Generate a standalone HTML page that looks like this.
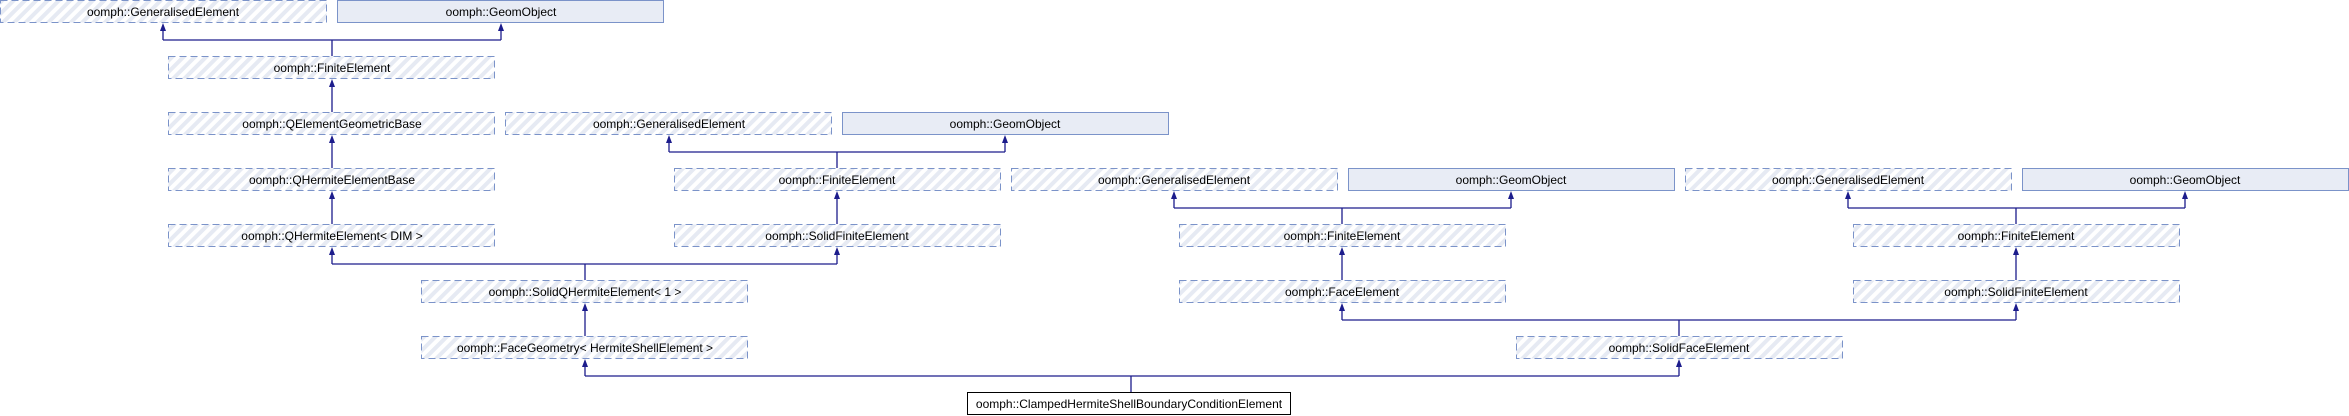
<!DOCTYPE html>
<html><head><meta charset="utf-8"><style>
html,body{margin:0;padding:0;background:#fff;}
svg{display:block;}
text{font-family:"Liberation Sans",sans-serif;font-size:12px;fill:#000;}
</style></head><body>
<svg width="2349" height="416" viewBox="0 0 2349 416" xmlns="http://www.w3.org/2000/svg">
<defs>
<pattern id="h" patternUnits="userSpaceOnUse" width="8" height="8" patternTransform="rotate(45)">
<rect width="8" height="8" fill="#fff"/><rect width="4" height="8" fill="#e6eaf3"/>
</pattern>
</defs>
<g fill="url(#h)" stroke="#7b93c9" stroke-width="1" stroke-dasharray="7,4">
<rect x="0.5" y="0.5" width="326" height="22"/>
<rect x="168.5" y="56.5" width="326" height="22"/>
<rect x="168.5" y="112.5" width="326" height="22"/>
<rect x="505.5" y="112.5" width="326" height="22"/>
<rect x="168.5" y="168.5" width="326" height="22"/>
<rect x="674.5" y="168.5" width="326" height="22"/>
<rect x="1011.5" y="168.5" width="326" height="22"/>
<rect x="1685.5" y="168.5" width="326" height="22"/>
<rect x="168.5" y="224.5" width="326" height="22"/>
<rect x="674.5" y="224.5" width="326" height="22"/>
<rect x="1179.5" y="224.5" width="326" height="22"/>
<rect x="1853.5" y="224.5" width="326" height="22"/>
<rect x="421.5" y="280.5" width="326" height="22"/>
<rect x="1179.5" y="280.5" width="326" height="22"/>
<rect x="1853.5" y="280.5" width="326" height="22"/>
<rect x="421.5" y="336.5" width="326" height="22"/>
<rect x="1516.5" y="336.5" width="326" height="22"/>
</g>
<g fill="#e8ecf5" stroke="#7b93c9" stroke-width="1">
<rect x="337.5" y="0.5" width="326" height="22"/>
<rect x="842.5" y="112.5" width="326" height="22"/>
<rect x="1348.5" y="168.5" width="326" height="22"/>
<rect x="2022.5" y="168.5" width="326" height="22"/>
</g>
<rect x="967.5" y="392.5" width="323" height="22" fill="#fff" stroke="#000" stroke-width="1"/>
<g fill="none" stroke="#1c1c8c" stroke-width="1.3">
<path d="M332,56 V40 M163,40 H501 M163,40 V28 M501,40 V28"/>
<path d="M332,112 V84 M332,168 V140 M332,224 V196"/>
<path d="M837,168 V152 M669,152 H1005 M669,152 V140 M1005,152 V140"/>
<path d="M837,224 V196"/>
<path d="M585,280 V264 M332,264 H837 M332,264 V252 M837,264 V252"/>
<path d="M585,336 V308"/>
<path d="M1342,224 V208 M1174,208 H1511 M1174,208 V196 M1511,208 V196"/>
<path d="M1342,280 V252"/>
<path d="M2016,224 V208 M1848,208 H2185 M1848,208 V196 M2185,208 V196"/>
<path d="M2016,280 V252"/>
<path d="M1679,336 V320 M1342,320 H2016 M1342,320 V308 M2016,320 V308"/>
<path d="M1131,392 V376 M585,376 H1679 M585,376 V364 M1679,376 V364"/>
</g>
<g fill="#1c1c8c">
<path d="M163,23 l-3,8 h6z"/><path d="M501,23 l-3,8 h6z"/>
<path d="M332,79 l-3,8 h6z"/><path d="M332,135 l-3,8 h6z"/><path d="M332,191 l-3,8 h6z"/>
<path d="M669,135 l-3,8 h6z"/><path d="M1005,135 l-3,8 h6z"/>
<path d="M837,191 l-3,8 h6z"/>
<path d="M332,247 l-3,8 h6z"/><path d="M837,247 l-3,8 h6z"/>
<path d="M585,303 l-3,8 h6z"/>
<path d="M1174,191 l-3,8 h6z"/><path d="M1511,191 l-3,8 h6z"/>
<path d="M1342,247 l-3,8 h6z"/>
<path d="M1848,191 l-3,8 h6z"/><path d="M2185,191 l-3,8 h6z"/>
<path d="M2016,247 l-3,8 h6z"/>
<path d="M1342,303 l-3,8 h6z"/><path d="M2016,303 l-3,8 h6z"/>
<path d="M585,359 l-3,8 h6z"/><path d="M1679,359 l-3,8 h6z"/>
</g>
<g text-anchor="middle">
<text x="163" y="16">oomph::GeneralisedElement</text>
<text x="501" y="16">oomph::GeomObject</text>
<text x="332" y="72">oomph::FiniteElement</text>
<text x="332" y="128">oomph::QElementGeometricBase</text>
<text x="669" y="128">oomph::GeneralisedElement</text>
<text x="1005" y="128">oomph::GeomObject</text>
<text x="332" y="184">oomph::QHermiteElementBase</text>
<text x="837" y="184">oomph::FiniteElement</text>
<text x="1174" y="184">oomph::GeneralisedElement</text>
<text x="1511" y="184">oomph::GeomObject</text>
<text x="1848" y="184">oomph::GeneralisedElement</text>
<text x="2185" y="184">oomph::GeomObject</text>
<text x="332" y="240">oomph::QHermiteElement&lt; DIM &gt;</text>
<text x="837" y="240">oomph::SolidFiniteElement</text>
<text x="1342" y="240">oomph::FiniteElement</text>
<text x="2016" y="240">oomph::FiniteElement</text>
<text x="585" y="296">oomph::SolidQHermiteElement&lt; 1 &gt;</text>
<text x="1342" y="296">oomph::FaceElement</text>
<text x="2016" y="296">oomph::SolidFiniteElement</text>
<text x="585" y="352">oomph::FaceGeometry&lt; HermiteShellElement &gt;</text>
<text x="1679" y="352">oomph::SolidFaceElement</text>
<text x="1129" y="408">oomph::ClampedHermiteShellBoundaryConditionElement</text>
</g>
</svg>
</body></html>
